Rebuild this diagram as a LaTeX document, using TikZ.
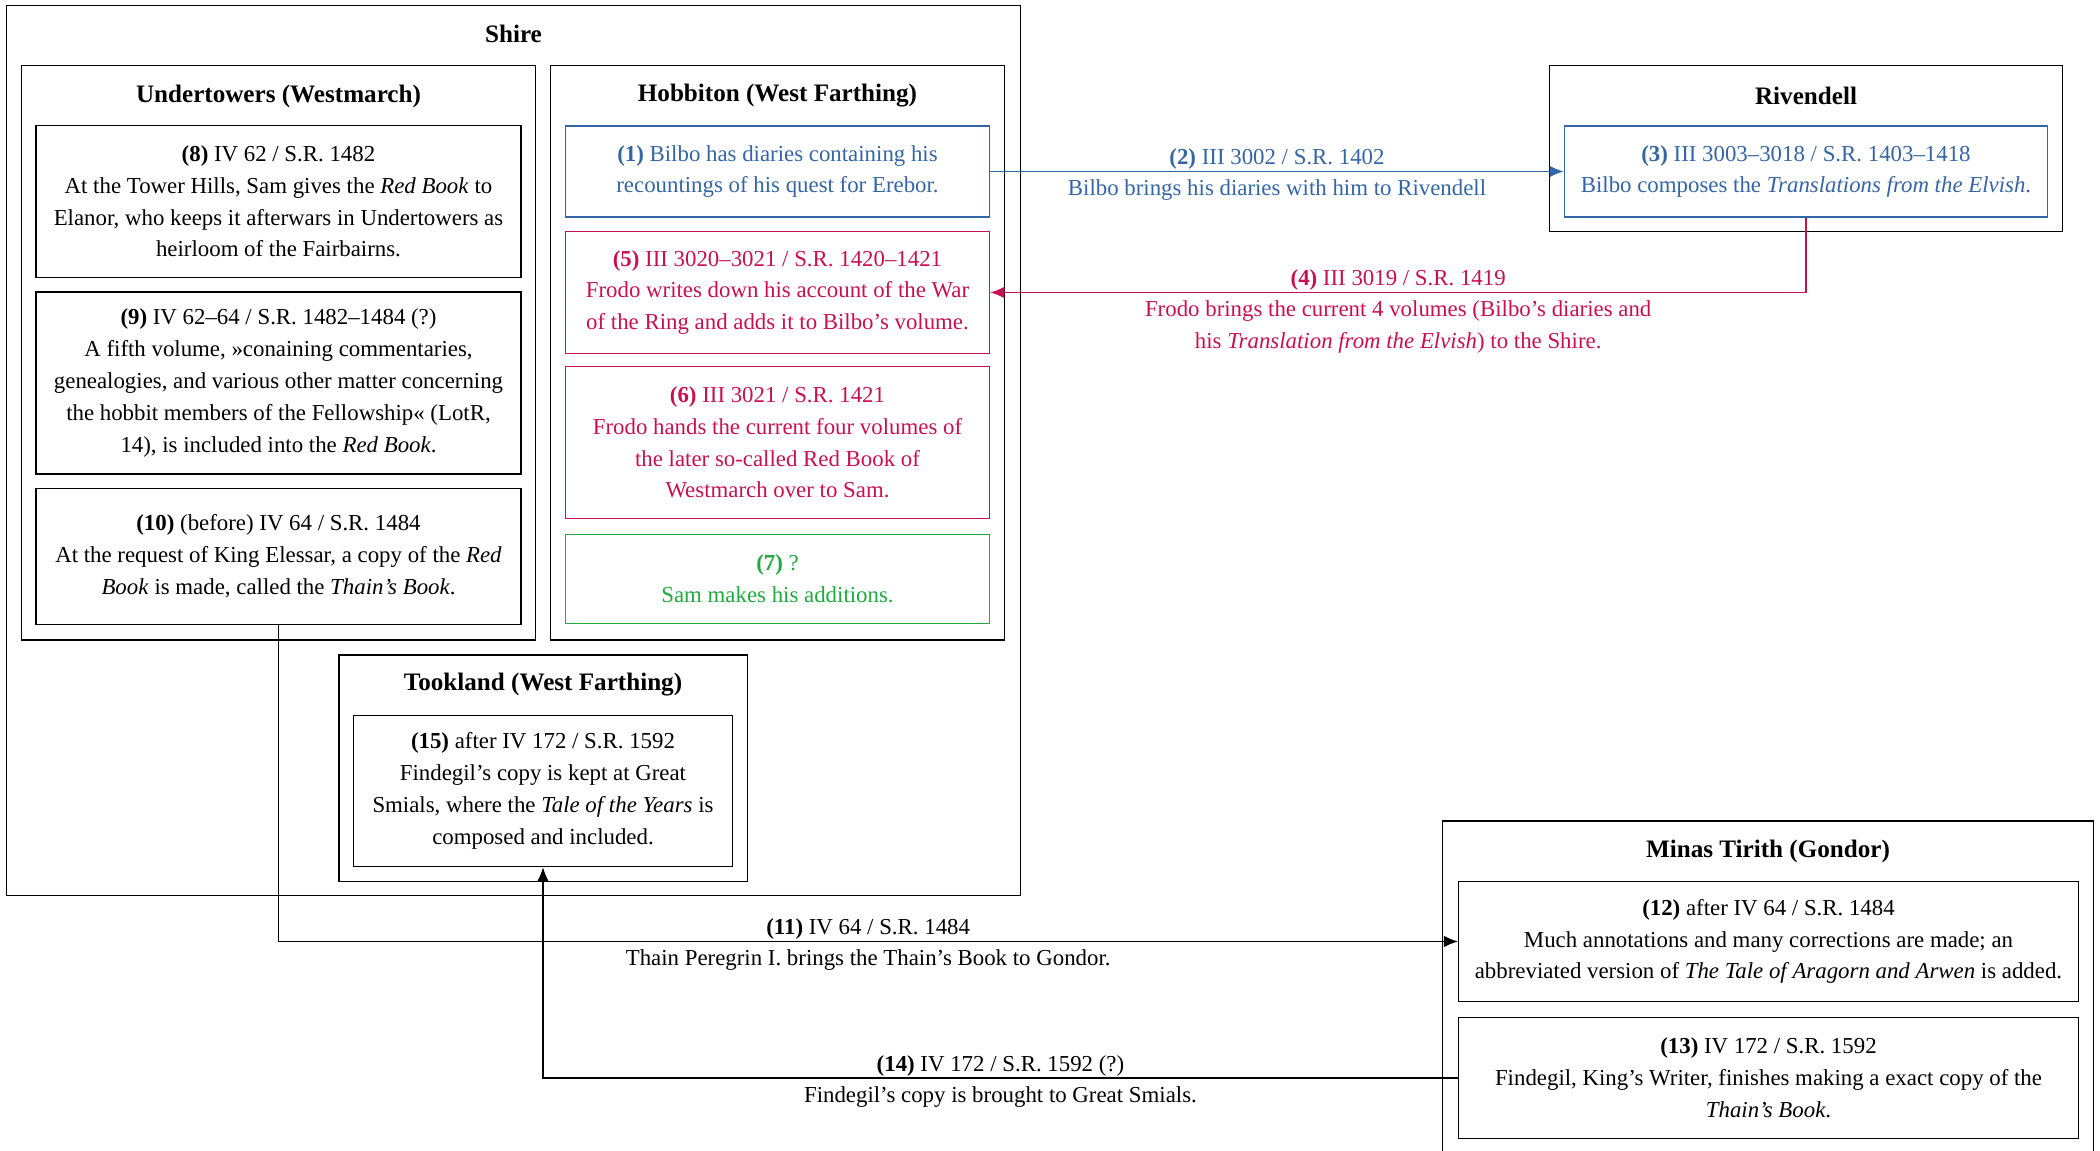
\documentclass[tikz,border=0pt]{standalone}
\usepackage{fontspec}
\setmainfont{Liberation Serif}
\usepackage{xcolor}
\usepackage{tikz}
\usetikzlibrary{arrows.meta}
\usetikzlibrary{positioning}

\definecolor{bilboblue}{RGB}{52,101,164}
\definecolor{frodored}{RGB}{200,16,80}
\definecolor{samgreen}{RGB}{30,170,60}

\tikzset{
  txt/.style={font=\fontsize{13}{18.1}\selectfont, align=center},
  region/.style={draw, line width=0.7pt, rectangle, inner sep=0pt},
  place/.style={align=center, font=\fontsize{14.3}{18}\selectfont\bfseries},
  event/.style={draw, txt, line width=0.7pt, rectangle, inner sep=0pt},
  route/.style={line width=0.6pt, -{Latex[length=2.8mm, width=2.3mm]}},
  when/.style={txt, above, inner sep=0.8pt},
  what/.style={txt, below, inner sep=4.5pt}
}

\begin{document}
\begin{tikzpicture}
  \useasboundingbox (0,0) rectangle (42.0,23.01);

  % regions
  \draw (10.27,14.0) node[region, minimum width=20.28cm, minimum height=17.81cm]  (shire) {};
  \draw (5.57,15.955) node[region, minimum width=10.28cm, minimum height=11.49cm] (under) {};
  \draw (15.55,15.955) node[region, minimum width=9.08cm, minimum height=11.49cm] (hobbit) {};
  \draw (10.865,7.645) node[region, minimum width=8.17cm, minimum height=4.53cm]  (took) {};
  \draw (36.12,20.04) node[region, minimum width=10.26cm, minimum height=3.32cm]  (riven) {};
  \draw (35.36,2.795) node[region, minimum width=13.02cm, minimum height=7.59cm]  (minas) {};

  \draw (10.27,22.33) node[place] (shiret)  {Shire};
  \draw (5.57,21.09)  node[place] (undert)  {Undertowers (Westmarch)};
  \draw (15.55,21.09) node[place] (hobbitt) {Hobbiton (West Farthing)};
  \draw (10.86,9.31)  node[place] (tookt)   {Tookland (West Farthing)};
  \draw (36.12,21.09) node[place] (rivent)  {Rivendell};
  \draw (35.36,5.99)  node[place] (minast)  {Minas Tirith (Gondor)};

  % Undertowers
  \draw (5.57,18.98) node[event, minimum width=9.70cm, minimum height=3.03cm] (e8)
    {\textbf{(8)} IV 62 / S.R. 1482\\At the Tower Hills, Sam gives the \textit{Red Book} to\\Elanor, who keeps it afterwars in Undertowers as\\heirloom of the Fairbairns.};
  \draw (5.57,15.35) node[event, minimum width=9.70cm, minimum height=3.64cm] (e9)
    {\textbf{(9)} IV 62--64 / S.R. 1482--1484 (?)\\A fifth volume, »conaining commentaries,\\genealogies, and various other matter concerning\\the hobbit members of the Fellowship« (LotR,\\14), is included into the \textit{Red Book}.};
  \draw (5.57,11.88) node[event, minimum width=9.70cm, minimum height=2.71cm] (e10)
    {\textbf{(10)} (before) IV 64 / S.R. 1484\\At the request of King Elessar, a copy of the \textit{Red}\\\textit{Book} is made, called the \textit{Thain's Book}.};

  % Hobbiton
  \draw (15.55,19.58) node[event, bilboblue, minimum width=8.49cm, minimum height=1.82cm] (e1)
    {\textbf{(1)} Bilbo has diaries containing his\\recountings of his quest for Erebor.};
  \draw (15.55,17.16) node[event, frodored, minimum width=8.49cm, minimum height=2.44cm] (e5)
    {\textbf{(5)} III 3020--3021 / S.R. 1420--1421\\Frodo writes down his account of the War\\of the Ring and adds it to Bilbo's volume.};
  \draw (15.55,14.16) node[event, frodored, minimum width=8.49cm, minimum height=3.03cm] (e6)
    {\textbf{(6)} III 3021 / S.R. 1421\\Frodo hands the current four volumes of\\the later so-called Red Book of\\Westmarch over to Sam.};
  \draw (15.55,11.43) node[event, samgreen, minimum width=8.49cm, minimum height=1.79cm] (e7)
    {\textbf{(7)} ?\\Sam makes his additions.};

  % Tookland
  \draw (10.86,7.19) node[event, minimum width=7.58cm, minimum height=3.03cm] (e15)
    {\textbf{(15)} after IV 172 / S.R. 1592\\Findegil's copy is kept at Great\\Smials, where the \textit{Tale of the Years} is\\composed and included.};

  % Rivendell
  \draw (36.12,19.58) node[event, bilboblue, minimum width=9.67cm, minimum height=1.82cm] (e3)
    {\textbf{(3)} III 3003--3018 / S.R. 1403--1418\\Bilbo composes the \textit{Translations from the Elvish}.};

  % Minas Tirith
  \draw (35.37,4.18) node[event, minimum width=12.40cm, minimum height=2.41cm] (e12)
    {\textbf{(12)} after IV 64 / S.R. 1484\\Much annotations and many corrections are made; an\\abbreviated version of \textit{The Tale of Aragorn and Arwen} is added.};
  \draw (35.37,1.45) node[event, minimum width=12.40cm, minimum height=2.41cm] (e13)
    {\textbf{(13)} IV 172 / S.R. 1592\\Findegil, King's Writer, finishes making a exact copy of the\\\textit{Thain's Book}.};

  % journeys
  \draw[route, bilboblue] (e1.east) -- node[when] {\textbf{(2)} III 3002 / S.R. 1402}
    node[what] {Bilbo brings his diaries with him to Rivendell} (e3.west);
  \draw[route, frodored] (e3.south) |- node[when, pos=0.75] {\textbf{(4)} III 3019 / S.R. 1419}
    node[what, pos=0.75] {Frodo brings the current 4 volumes (Bilbo's diaries and\\his \textit{Translation from the Elvish}) to the Shire.} (e5.east);
  \draw[route] (e10.south) |- node[when, pos=0.75] {\textbf{(11)} IV 64 / S.R. 1484}
    node[what, pos=0.75] {Thain Peregrin I. brings the Thain's Book to Gondor.} (e12.west);
  \draw[route] (e13.west) -| node[when, pos=0.25] {\textbf{(14)} IV 172 / S.R. 1592 (?)}
    node[what, pos=0.25] {Findegil's copy is brought to Great Smials.} (e15.south);
\end{tikzpicture}
\end{document}
